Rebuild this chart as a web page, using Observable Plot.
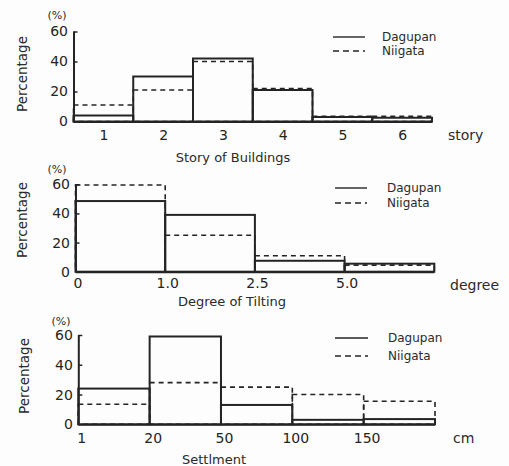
<!DOCTYPE html>
<html>
<head>
<meta charset="utf-8">
<script src="https://cdn.jsdelivr.net/npm/d3@7"></script>
<script src="https://cdn.jsdelivr.net/npm/@observablehq/plot@0.6"></script>
<style>
  html, body { margin: 0; padding: 0; background: #fff; }
  #fig { position: relative; width: 509px; height: 466px; background: #fdfdfd; overflow: hidden;
         font-family: "DejaVu Sans", sans-serif; color: #2a2a2a; }
  #fig svg.plot { position: absolute; left: 0; }
  .note { position: absolute; white-space: nowrap; line-height: 1; }
</style>
</head>
<body>
<div id="fig"></div>
<script>
// ---- data ----
const yTicks = [0, 20, 40, 60];
const seriesNames = ["Dagupan", "Niigata"];

const storyLabels = ["1", "2", "3", "4", "5", "6"];
const storyDagupan = [4, 30, 42, 21, 3, 2.5];
const storyNiigata = [11, 21, 40, 22, 3.5, 3.5];

const tiltLabels = ["0", "1.0", "2.5", "5.0"];
const tiltDagupan = [48.5, 39, 7.5, 5.5];
const tiltNiigata = [59.5, 25, 11, 4.5];

const settleLabels = ["1", "20", "50", "100", "150"];
const settleDagupan = [24, 59, 13, 3, 3.5];
const settleNiigata = [13.5, 28, 25, 20, 15.5];

const panelTitles = ["Story of Buildings", "Degree of Tilting", "Settlment"];
const panelUnits = ["story", "degree", "cm"];

// ---- layout ----
const ink = "#242424";
const fig = document.getElementById("fig");

const panels = [
  {dag: storyDagupan, nii: storyNiigata, labels: storyLabels, centered: true,
   top: 0, height: 150, mt: 31.5, mb: 28.5, ml: 73.5, mr: 77, dx: 0, pad: 8},
  {dag: tiltDagupan, nii: tiltNiigata, labels: tiltLabels, centered: false,
   top: 150, height: 150, mt: 34.3, mb: 28.3, ml: 75.5, mr: 74.7, dx: 2, pad: 6},
  {dag: settleDagupan, nii: settleNiigata, labels: settleLabels, centered: false,
   top: 300, height: 166, mt: 35, mb: 41.7, ml: 78.3, mr: 74, dx: 3, pad: 8}
];

panels.forEach((p, k) => {
  const n = p.dag.length;
  const rows = p.dag.map((d, i) => ({i, i1: i + 1, dagupan: d, niigata: p.nii[i]}));
  const tickPos = p.labels.map((_, i) => p.centered ? i + 0.5 : i);
  const chart = Plot.plot({
    width: 509, height: p.height,
    marginTop: p.mt, marginBottom: p.mb, marginLeft: p.ml, marginRight: p.mr,
    x: {domain: [0, n], axis: null},
    y: {domain: [yTicks[0], yTicks[yTicks.length - 1]], axis: null},
    style: {fontFamily: "DejaVu Sans, sans-serif", fontSize: "14px", color: ink, background: "transparent", overflow: "visible"},
    marks: [
      Plot.rectY(rows, {x1: "i", x2: "i1", y: "niigata", fill: "none", stroke: ink, strokeWidth: 1.6, strokeDasharray: "5,4"}),
      Plot.rectY(rows, {x1: "i", x2: "i1", y: "dagupan", fill: "none", stroke: ink, strokeWidth: 2}),
      Plot.ruleX([0], {y1: yTicks[0], y2: yTicks[yTicks.length - 1], stroke: ink, strokeWidth: 2}),
      Plot.ruleY([0], {stroke: ink, strokeWidth: 2}),
      Plot.axisY({ticks: yTicks, tickSize: 0, tickPadding: 6, label: null, fontSize: 14}),
      Plot.axisY({ticks: yTicks.slice(1), tickSize: 4, dx: 4, text: null, label: null, stroke: ink, strokeWidth: 1.5}),
      Plot.axisX({ticks: tickPos, tickFormat: (d) => p.labels[tickPos.indexOf(d)], tickSize: 0, tickPadding: p.pad, dx: p.dx, label: null, fontSize: 14})
    ]
  });
  chart.style.top = p.top + "px";
  fig.appendChild(chart);
});

function note(text, x, y, opts = {}) {
  const el = document.createElement("div");
  el.className = "note";
  el.textContent = text;
  el.style.left = x + "px";
  el.style.top = y + "px";
  el.style.fontSize = (opts.size || 14) + "px";
  const tx = opts.align === "left" ? "0" : "-50%";
  el.style.transform = `translate(${tx}, -50%)` + (opts.rotate ? ` rotate(${opts.rotate}deg)` : "");
  fig.appendChild(el);
  return el;
}

function legendLine(x1, x2, y, dashed) {
  const ns = "http://www.w3.org/2000/svg";
  const svg = document.createElementNS(ns, "svg");
  svg.setAttribute("width", x2 - x1 + 2);
  svg.setAttribute("height", 6);
  svg.style.position = "absolute";
  svg.style.left = (x1 - 1) + "px";
  svg.style.top = (y - 3) + "px";
  const line = document.createElementNS(ns, "line");
  line.setAttribute("x1", 1); line.setAttribute("x2", x2 - x1 + 1);
  line.setAttribute("y1", 3); line.setAttribute("y2", 3);
  line.setAttribute("stroke", ink);
  line.setAttribute("stroke-width", 1.4);
  if (dashed) line.setAttribute("stroke-dasharray", "6,4");
  svg.appendChild(line);
  fig.appendChild(svg);
}

// panel annotations
const pctPos = [[57, 15], [57, 169], [61, 321]];
const ylabPos = [[23, 74], [23, 220], [25, 376]];
const titlePos = [[233, 157], [232, 301], [214, 459]];
const unitPos = [[448, 135], [450, 285], [453, 438]];
const legendPos = [
  {x1: 333, x2: 365, y1: 37, y2: 51, tx: 382},
  {x1: 335, x2: 367, y1: 188, y2: 203, tx: 387},
  {x1: 335, x2: 368, y1: 338, y2: 356, tx: 388}
];

panels.forEach((p, k) => {
  note("(%)", pctPos[k][0], pctPos[k][1], {size: 11});
  note("Percentage", ylabPos[k][0], ylabPos[k][1], {size: 13.5, rotate: -90});
  note(panelTitles[k], titlePos[k][0], titlePos[k][1], {size: 13});
  note(panelUnits[k], unitPos[k][0], unitPos[k][1], {size: 14, align: "left"});
  const L = legendPos[k];
  legendLine(L.x1, L.x2, L.y1, false);
  legendLine(L.x1, L.x2, L.y2, true);
  note(seriesNames[0], L.tx, L.y1, {size: 12, align: "left"});
  note(seriesNames[1], L.tx, L.y2, {size: 12, align: "left"});
});
</script>
</body>
</html>
